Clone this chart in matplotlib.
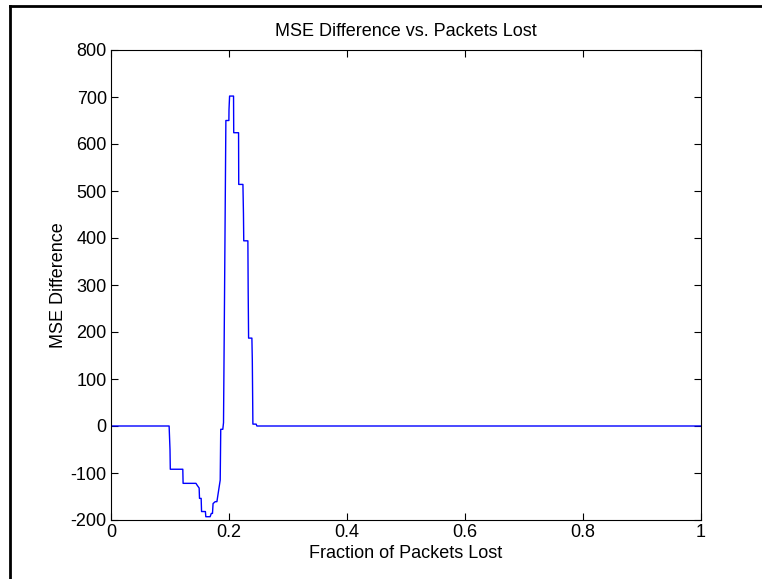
import numpy as np
import matplotlib.pyplot as plt
from matplotlib.lines import Line2D

plt.rcParams['font.family'] = ['Liberation Sans', 'DejaVu Sans']
plt.rcParams['axes.unicode_minus'] = False

# vertices of the MSE difference curve
frac_lost = [0.0, 0.0985, 0.1000, 0.1005, 0.1217, 0.1222, 0.1440, 0.1460,
             0.1494, 0.1500, 0.1528, 0.1535, 0.1600, 0.1607, 0.1680, 0.1700,
             0.1720, 0.1730, 0.1766, 0.1795, 0.1851, 0.1860, 0.1895, 0.1907,
             0.1924, 0.1947, 0.1998, 0.2000, 0.2010, 0.2077, 0.2080, 0.2162,
             0.2165, 0.2236, 0.2245, 0.2250, 0.2320, 0.2325, 0.2332, 0.2388,
             0.2395, 0.2405, 0.2460, 0.2473, 1.0]
mse_diff = [0, 0, -50, -92, -92, -122, -122, -126,
            -132, -154, -154, -182, -182, -193, -193, -186,
            -186, -165, -161, -161, -115, -7, -7, 7,
            273, 650, 650, 673, 702, 702, 624, 624,
            514, 514, 452, 394, 394, 287, 187, 187,
            141, 4, 4, 0, 0]

xticks = [0, 0.2, 0.4, 0.6, 0.8, 1]
xticklabels = ['0', '0.2', '0.4', '0.6', '0.8', '1']
yticks = list(range(-200, 801, 100))

fig = plt.figure(figsize=(7.62, 5.79), dpi=100)
ax = fig.add_axes([111 / 762, 1 - 520 / 579, 590 / 762, 470 / 579])

ax.plot(frac_lost, mse_diff, color='#0000ff', linewidth=1.0)

ax.set_xlim(0, 1)
ax.set_ylim(-200, 800)
ax.set_xticks(xticks)
ax.set_xticklabels(xticklabels)
ax.set_yticks(yticks)
ax.tick_params(direction='in', top=True, right=True, labelsize=13,
               length=5, width=0.8, pad=3)
for s in ax.spines.values():
    s.set_linewidth(0.8)

ax.set_title('MSE Difference vs. Packets Lost', fontsize=13, pad=10)
ax.set_xlabel('Fraction of Packets Lost', fontsize=13, labelpad=3)
ax.set_ylabel('MSE Difference', fontsize=13, labelpad=3)

# screenshot frame on the left and top
fig.add_artist(Line2D([10 / 762, 10 / 762], [0, 1 - 6 / 579], color='black',
                      linewidth=2, transform=fig.transFigure))
fig.add_artist(Line2D([10 / 762, 1], [1 - 6 / 579, 1 - 6 / 579], color='black',
                      linewidth=2, transform=fig.transFigure))

fig.savefig('out.png', dpi=100)
